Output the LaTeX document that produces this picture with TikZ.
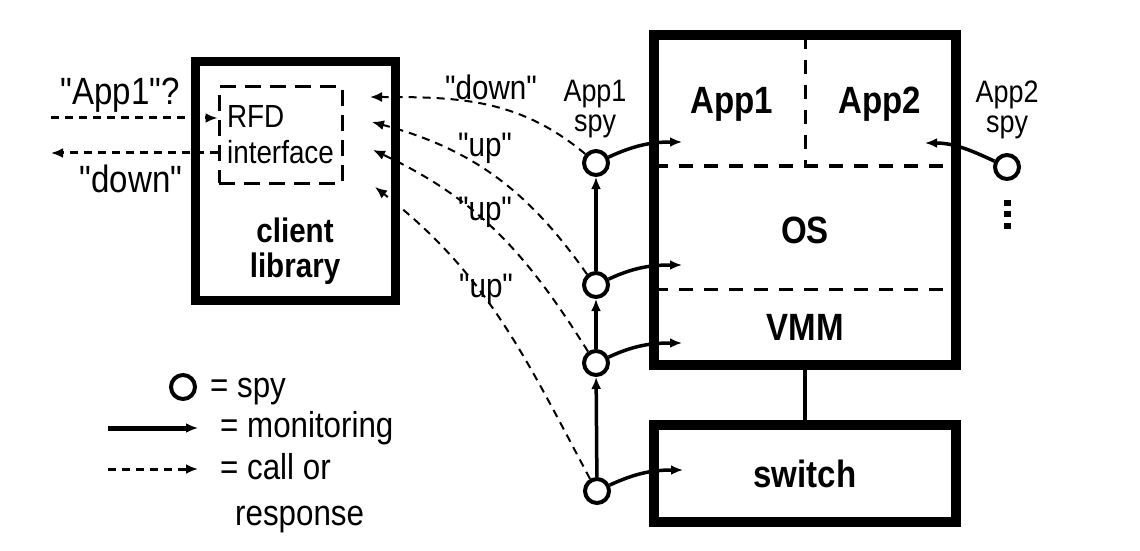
\documentclass[tikz,border=0pt]{standalone}
\usepackage{fontspec}
\setmainfont{Liberation Sans}[FakeStretch=0.87, Ligatures=TeXOff]
\usepackage{tikz}
\usetikzlibrary{arrows.meta, positioning}

\begin{document}
\begin{tikzpicture}[x=1pt, y=1pt, >={Latex[length=12pt, width=10pt]},
    bigbox/.style={draw, line width=10pt, inner sep=0pt},
    spy/.style={circle, draw, line width=4pt, minimum size=24pt, inner sep=0pt},
    mon/.style={->, line width=3.5pt},
    call/.style={->, line width=2pt, dash pattern=on 8pt off 6pt},
    part/.style={line width=3pt, dash pattern=on 14pt off 11pt},
    quote/.style={font=\fontsize{34}{36}\selectfont},
    big/.style={font=\fontsize{38}{40}\selectfont},
    bold/.style={font=\bfseries\fontsize{38}{40}\selectfont},
    spylbl/.style={font=\fontsize{31}{30}\selectfont, align=center, inner sep=0pt},
    legend/.style={font=\fontsize{36}{38}\selectfont, inner sep=0pt}]
    \useasboundingbox (0,0) rectangle (1140,550);

    % client library with the RFD interface
    \node[bigbox, line width=9pt, minimum width=200pt, minimum height=238pt] (client) at (295,369) {};
    \node[draw, line width=3pt, dash pattern=on 16pt off 9pt, minimum width=123pt, minimum height=96pt,
        align=left, font=\fontsize{32}{36}\selectfont] (rfd) at (280.5,415) {RFD\\interface};
    \node[font=\bfseries\fontsize{34}{35}\selectfont, align=center] (clientlbl) at (295,298.5) {client\\library};

    % query and answer on the left
    \coordinate (qin) at (51,432);
    \coordinate (qout) at (51,397);
    \draw[call, line width=3pt] (qin) -- (qin -| rfd.west);
    \draw[call, line width=3pt] (qout -| rfd.west) -- (qout);
    \node[big, anchor=base] (qapp) at (120,445) {"App1"?};
    \node[big, anchor=base] (qdown) at (131,358) {"down"};

    % host: apps, OS, VMM
    \node[bigbox, minimum width=302pt, minimum height=330pt] (host) at (805,350) {};
    \draw[part] (654,384) -- (956,384);
    \draw[part] (654,261) -- (956,261);
    \draw[part] (805,515) -- (805,384);
    \node[bold, anchor=base] (app1) at (732,436.5) {App1};
    \node[bold, anchor=base] (app2) at (880,436.5) {App2};
    \node[bold, anchor=base] (os) at (805,306.5) {OS};
    \node[bold, anchor=base] (vmm) at (805,209.5) {VMM};

    % switch
    \node[bigbox, bold, minimum width=302pt, minimum height=97pt] (switch) at (805,76.5) {switch};
    \draw[line width=4pt] (host) -- (switch);

    % spies
    \node[spy] (spyapp1) at (596,387) {};
    \node[spy] (spyos) at (596,265) {};
    \node[spy] (spyvmm) at (596,187) {};
    \node[spy] (spysw) at (597,59) {};
    \node[spy] (spyapp2) at (1007,383) {};
    \node[spylbl] (lspy1) at (595,441) {App1\\spy};
    \node[spylbl] (lspy2) at (1007,440.5) {App2\\spy};
    \foreach \y in {324,336,347}
        \fill (1004,\y-3) rectangle +(6.5,6.5);

    % monitoring
    \coordinate (mapp1) at (682,408);
    \coordinate (mos) at (682,285);
    \coordinate (mvmm) at (682,207);
    \coordinate (msw) at (683,80);
    \coordinate (mapp2) at (925,407);
    \draw[mon] (spysw) -- (spyvmm);
    \draw[mon] (spyvmm) -- (spyos);
    \draw[mon] (spyos) -- (spyapp1);
    \draw[mon] (spyapp1.25) to[out=25, in=180] (mapp1);
    \draw[mon] (spyos.25) to[out=25, in=180] (mos);
    \draw[mon] (spyvmm.25) to[out=25, in=180] (mvmm);
    \draw[mon] (spysw.25) to[out=25, in=180] (msw);
    \draw[mon] (spyapp2.155) to[out=155, in=0] (mapp2);

    % calls and responses
    \coordinate (c1) at (370,453);
    \coordinate (c2) at (372,428);
    \coordinate (c3) at (373,400);
    \coordinate (c4) at (375,363);
    \draw[call] (spyapp1.140) to[out=140, in=0] (c1);
    \draw[call] (spyos.130) to[out=125, in=-15] (c2);
    \draw[call] (spyvmm.125) to[out=122, in=-25] (c3);
    \draw[call] (spysw.120) to[out=118, in=-38] (c4);
    \node[quote, anchor=base] (ldown) at (491,450) {"down"};
    \node[quote, anchor=base] (lup1) at (485,393) {"up"};
    \node[quote, anchor=base] (lup2) at (485,330) {"up"};
    \node[quote, anchor=base] (lup3) at (486,253) {"up"};

    % legend
    \node[spy, minimum size=24pt] (lgspy) at (183,163) {};
    \node[legend, anchor=base west] (lgspytxt) at (210,153) {= spy};
    \coordinate (lgm0) at (108,122);
    \coordinate (lgm1) at (198,122);
    \draw[mon, line width=5pt] (lgm0) -- (lgm1);
    \node[legend, anchor=base west] (lgmontxt) at (220,112.5) {= monitoring};
    \coordinate (lgc0) at (108,81);
    \coordinate (lgc1) at (198,81);
    \draw[call, line width=3pt] (lgc0) -- (lgc1);
    \node[legend, anchor=base west] (lgcalltxt) at (220,71) {= call or};
    \node[legend, anchor=base west] (lgresptxt) at (235,25) {response};
\end{tikzpicture}
\end{document}
